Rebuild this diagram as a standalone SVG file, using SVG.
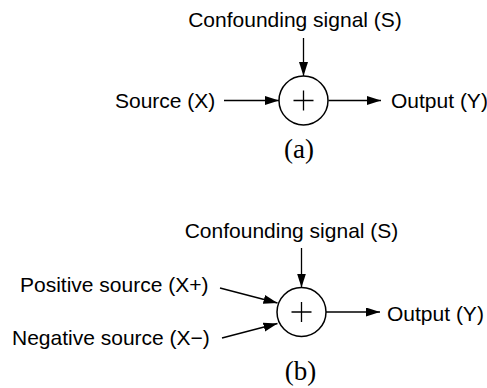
<svg xmlns="http://www.w3.org/2000/svg" width="487" height="388" viewBox="0 0 487 388">
<style>
.lbl{font-family:"Liberation Sans",Arial,sans-serif;font-size:21px;fill:#000}
.cap{font-family:"Liberation Serif","Times New Roman",serif;font-size:27px;fill:#000}
.edge{stroke:#000;stroke-width:1.3;fill:none;marker-end:url(#ah)}
.sum{stroke:#000;stroke-width:1.5;fill:#fff}
.plus{stroke:#000;stroke-width:1.3;fill:none}
</style>
<defs>
<marker id="ah" markerUnits="userSpaceOnUse" markerWidth="14" markerHeight="10" refX="14" refY="4.5" orient="auto">
<path d="M0,0 L14,4.5 L0,9 z" fill="#000"/>
</marker>
</defs>
<rect width="487" height="388" fill="#fff"/>
<g id="connectors">
<line class="edge" x1="303.5" y1="38" x2="303.5" y2="76"/>
<line class="edge" x1="224" y1="100.5" x2="279" y2="100.5"/>
<line class="edge" x1="328.5" y1="100.5" x2="381" y2="100.5"/>
<line class="edge" x1="301.5" y1="248" x2="301.5" y2="287.5"/>
<line class="edge" x1="220" y1="288" x2="277.5" y2="303"/>
<line class="edge" x1="222" y1="338" x2="277.5" y2="323.5"/>
<line class="edge" x1="326" y1="312" x2="380" y2="312"/>
</g>
<g id="a-sum">
<circle class="sum" cx="303.5" cy="100.5" r="24.5"/>
<path class="plus" d="M293.5,100.5 H313.5 M303.5,90.5 V110.5"/>
</g>
<g id="a-confound"><text class="lbl" x="295" y="27" text-anchor="middle">Confounding signal (S)</text></g>
<g id="a-source"><text class="lbl" x="115" y="108">Source (X)</text></g>
<g id="a-output"><text class="lbl" x="391" y="108">Output (Y)</text></g>
<g id="a-caption"><text class="cap" x="299" y="158" text-anchor="middle">(a)</text></g>
<g id="b-sum">
<circle class="sum" cx="301.5" cy="312" r="24.5"/>
<path class="plus" d="M291.5,312 H311.5 M301.5,302 V322"/>
</g>
<g id="b-confound"><text class="lbl" x="291.5" y="238" text-anchor="middle">Confounding signal (S)</text></g>
<g id="b-pos"><text class="lbl" x="20" y="292">Positive source (X+)</text></g>
<g id="b-neg"><text class="lbl" x="12" y="345">Negative source (X−)</text></g>
<g id="b-output"><text class="lbl" x="387" y="321">Output (Y)</text></g>
<g id="b-caption"><text class="cap" x="300.5" y="380" text-anchor="middle">(b)</text></g>
</svg>
